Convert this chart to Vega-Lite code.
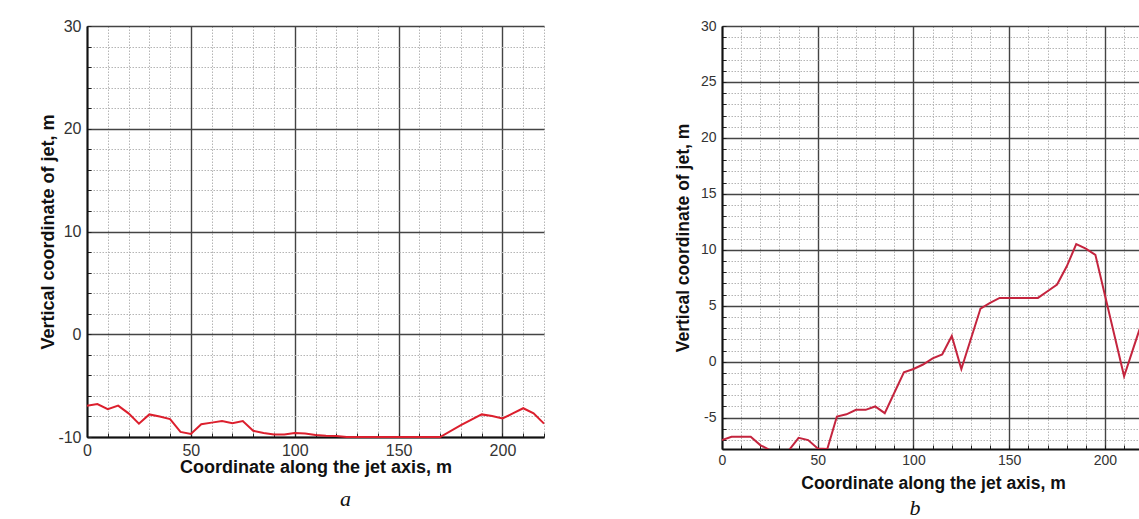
{
  "$schema": "https://vega.github.io/schema/vega-lite/v6.json",
  "background": "white",
  "padding": {"left": 39, "top": 18, "right": 0, "bottom": 0},
  "spacing": 126,
  "config": {
    "view": {"stroke": null},
    "axis": {
      "labelFont": "Liberation Sans",
      "titleFont": "Liberation Sans",
      "labelColor": "#333333",
      "titleColor": "#111111",
      "titleFontWeight": "bold",
      "domainColor": "#111111",
      "domainWidth": 2,
      "tickColor": "#222222",
      "tickSize": -4,
      "labelOverlap": false,
      "labelBound": false,
      "labelFlush": false
    },
    "title": {"font": "Liberation Serif", "fontStyle": "italic", "fontWeight": "normal", "fontSize": 22, "color": "#111111"}
  },
  "datasets": {
    "a": [
      {"x": 0, "y": -6.95}, {"x": 5, "y": -6.8}, {"x": 10, "y": -7.3}, {"x": 15, "y": -6.95},
      {"x": 20, "y": -7.7}, {"x": 25, "y": -8.7}, {"x": 30, "y": -7.8}, {"x": 35, "y": -8.0},
      {"x": 40, "y": -8.25}, {"x": 45, "y": -9.5}, {"x": 50, "y": -9.7}, {"x": 55, "y": -8.75},
      {"x": 60, "y": -8.6}, {"x": 65, "y": -8.45}, {"x": 70, "y": -8.65}, {"x": 75, "y": -8.45},
      {"x": 80, "y": -9.4}, {"x": 85, "y": -9.6}, {"x": 90, "y": -9.75}, {"x": 95, "y": -9.75},
      {"x": 100, "y": -9.6}, {"x": 105, "y": -9.65}, {"x": 110, "y": -9.8}, {"x": 115, "y": -9.87},
      {"x": 120, "y": -9.9}, {"x": 125, "y": -10}, {"x": 170, "y": -10}, {"x": 180, "y": -8.85},
      {"x": 190, "y": -7.8}, {"x": 195, "y": -7.95}, {"x": 200, "y": -8.2}, {"x": 205, "y": -7.7},
      {"x": 210, "y": -7.2}, {"x": 215, "y": -7.7}, {"x": 220, "y": -8.7}
    ],
    "b": [
      {"x": 0, "y": -7.0}, {"x": 5, "y": -6.7}, {"x": 10, "y": -6.7}, {"x": 15, "y": -6.7},
      {"x": 20, "y": -7.45}, {"x": 25, "y": -7.9}, {"x": 30, "y": -7.9}, {"x": 35, "y": -7.9},
      {"x": 40, "y": -6.8}, {"x": 45, "y": -7.0}, {"x": 50, "y": -7.75}, {"x": 55, "y": -7.8},
      {"x": 60, "y": -4.9}, {"x": 65, "y": -4.7}, {"x": 70, "y": -4.3}, {"x": 75, "y": -4.3},
      {"x": 80, "y": -4.0}, {"x": 85, "y": -4.6}, {"x": 95, "y": -0.95}, {"x": 100, "y": -0.65},
      {"x": 105, "y": -0.25}, {"x": 110, "y": 0.3}, {"x": 115, "y": 0.65}, {"x": 120, "y": 2.3},
      {"x": 125, "y": -0.65}, {"x": 135, "y": 4.75}, {"x": 140, "y": 5.25}, {"x": 145, "y": 5.7},
      {"x": 165, "y": 5.7}, {"x": 170, "y": 6.3}, {"x": 175, "y": 6.9}, {"x": 180, "y": 8.5},
      {"x": 185, "y": 10.5}, {"x": 190, "y": 10.1}, {"x": 195, "y": 9.55}, {"x": 210, "y": -1.3},
      {"x": 215, "y": 1.3}, {"x": 220, "y": 3.9}
    ]
  },
  "hconcat": [
    {
      "width": 457,
      "height": 411,
      "data": {"name": "a"},
      "title": {"text": "a", "orient": "bottom", "anchor": "middle", "frame": "group", "dx": 30, "offset": 13},
      "mark": {"type": "line", "color": "#dc1f2d", "strokeWidth": 2, "clip": false},
      "encoding": {
        "x": {
          "field": "x", "type": "quantitative",
          "scale": {"domain": [0, 220], "nice": false, "zero": false},
          "axis": {
            "values": [0, 10, 20, 30, 40, 50, 60, 70, 80, 90, 100, 110, 120, 130, 140, 150, 160, 170, 180, 190, 200, 210, 220],
            "labelExpr": "datum.value % 50 === 0 ? toString(datum.value) : ''",
            "labelFontSize": 16,
            "labelPadding": 9,
            "gridColor": {"condition": {"test": "datum.value % 50 === 0", "value": "#444444"}, "value": "#b5b5b5"},
            "gridDash": {"condition": {"test": "datum.value % 50 === 0", "value": []}, "value": [1.5, 1.5]},
            "gridWidth": {"condition": {"test": "datum.value % 50 === 0", "value": 1.4}, "value": 1},
            "title": "Coordinate along the jet axis, m",
            "titleFontSize": 18,
            "titlePadding": 0
          }
        },
        "y": {
          "field": "y", "type": "quantitative",
          "scale": {"domain": [-10, 30], "nice": false, "zero": false},
          "axis": {
            "values": [-10, -8, -6, -4, -2, 0, 2, 4, 6, 8, 10, 12, 14, 16, 18, 20, 22, 24, 26, 28, 30],
            "labelExpr": "datum.value % 10 === 0 ? toString(datum.value) : ''",
            "labelFontSize": 16,
            "labelPadding": 10,
            "gridColor": {"condition": {"test": "datum.value % 10 === 0", "value": "#444444"}, "value": "#b5b5b5"},
            "gridDash": {"condition": {"test": "datum.value % 10 === 0", "value": []}, "value": [1.5, 1.5]},
            "gridWidth": {"condition": {"test": "datum.value % 10 === 0", "value": 1.4}, "value": 1},
            "title": "Vertical coordinate of jet, m",
            "titleFontSize": 18,
            "titlePadding": 0
          }
        }
      }
    },
    {
      "width": 418,
      "height": 423,
      "data": {"name": "b"},
      "title": {"text": "b", "orient": "bottom", "anchor": "middle", "frame": "group", "dx": -16, "offset": 6},
      "mark": {"type": "line", "color": "#c4243e", "strokeWidth": 2, "clip": true},
      "encoding": {
        "x": {
          "field": "x", "type": "quantitative",
          "scale": {"domain": [0, 218.3], "nice": false, "zero": false},
          "axis": {
            "values": [0, 10, 20, 30, 40, 50, 60, 70, 80, 90, 100, 110, 120, 130, 140, 150, 160, 170, 180, 190, 200, 210],
            "labelExpr": "datum.value % 50 === 0 ? toString(datum.value) : ''",
            "labelFontSize": 14,
            "labelPadding": 8,
            "gridColor": {"condition": {"test": "datum.value % 50 === 0", "value": "#444444"}, "value": "#b5b5b5"},
            "gridDash": {"condition": {"test": "datum.value % 50 === 0", "value": []}, "value": [1.5, 1.5]},
            "gridWidth": {"condition": {"test": "datum.value % 50 === 0", "value": 1.4}, "value": 1},
            "title": "Coordinate along the jet axis, m",
            "titleFontSize": 17.5,
            "titlePadding": 7,
            "titleX": 211,
            "titleAlign": "center"
          }
        },
        "y": {
          "field": "y", "type": "quantitative",
          "scale": {"domain": [-7.8, 30], "nice": false, "zero": false},
          "axis": {
            "values": [-7, -6, -5, -4, -3, -2, -1, 0, 1, 2, 3, 4, 5, 6, 7, 8, 9, 10, 11, 12, 13, 14, 15, 16, 17, 18, 19, 20, 21, 22, 23, 24, 25, 26, 27, 28, 29, 30],
            "labelExpr": "datum.value % 5 === 0 ? toString(datum.value) : ''",
            "labelFontSize": 14,
            "labelPadding": 10,
            "gridColor": {"condition": {"test": "datum.value % 5 === 0", "value": "#444444"}, "value": "#b5b5b5"},
            "gridDash": {"condition": {"test": "datum.value % 5 === 0", "value": []}, "value": [1.5, 1.5]},
            "gridWidth": {"condition": {"test": "datum.value % 5 === 0", "value": 1.4}, "value": 1},
            "title": "Vertical coordinate of  jet, m",
            "titleFontSize": 17.5,
            "titlePadding": 8
          }
        }
      }
    }
  ]
}
